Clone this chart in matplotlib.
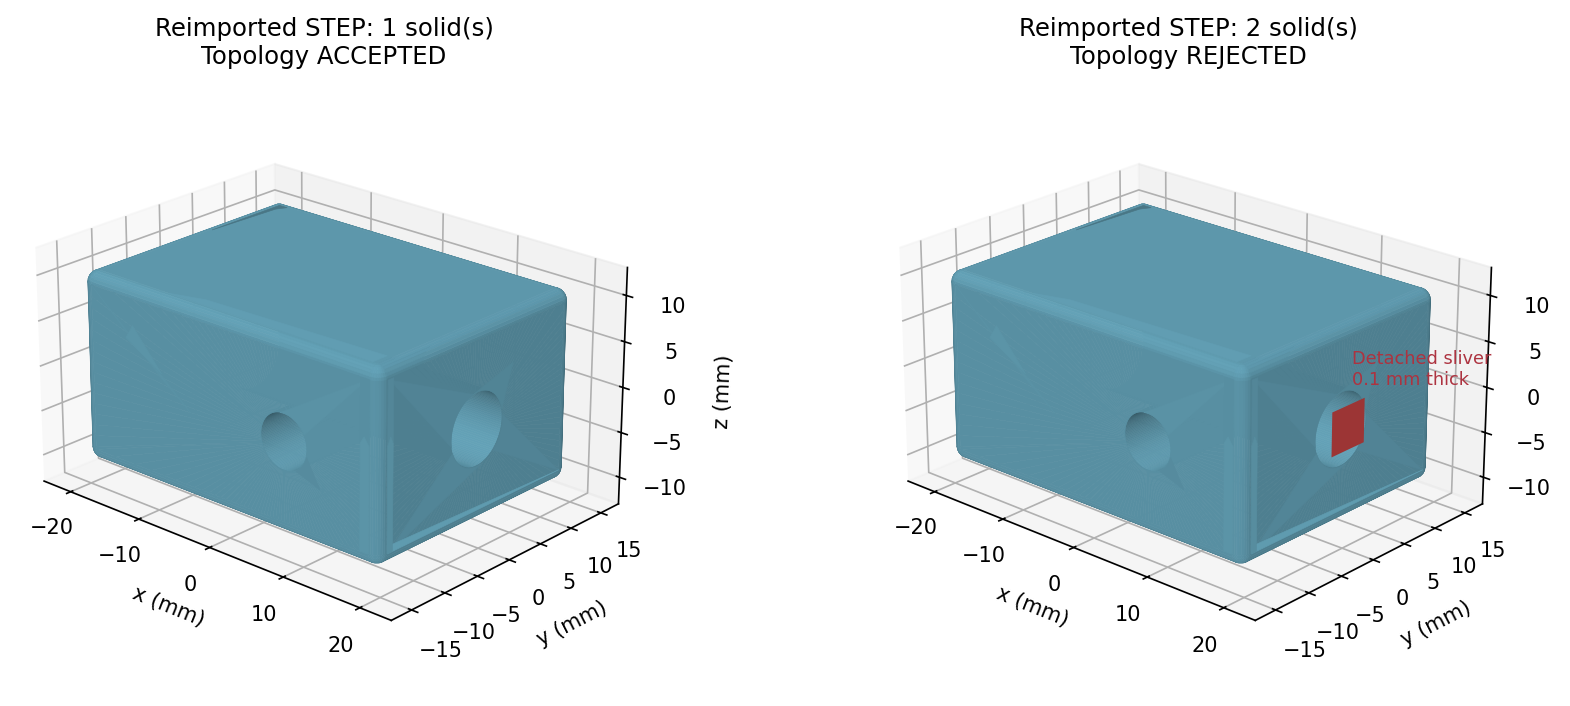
import numpy as np
import matplotlib
matplotlib.use("Agg")
import matplotlib.pyplot as plt
from matplotlib.colors import to_rgb
from mpl_toolkits.mplot3d.art3d import Poly3DCollection

titles = ["Reimported STEP: 1 solid(s)\nTopology ACCEPTED",
          "Reimported STEP: 2 solid(s)\nTopology REJECTED"]
half_size = (20.0, 14.8, 10.4)
body_offset = (-0.27, -0.26, 0.3)
fillet = 1.25
front_hole = (7.75, -0.5, 3.05)    # x, z, radius on the y- wall
side_hole = (0.0, -0.3, 4.0)       # y, z, radius on the x+ wall
sliver_y = (-2.0, 3.05)
sliver_z = (-2.4, 2.4)
sliver_note = "Detached sliver\n0.1 mm thick"
x_ticks = [-20, -10, 0, 10, 20]
y_ticks = [-15, -10, -5, 0, 5, 10, 15]
z_ticks = [-10, -5, 0, 5, 10]
x_lim = (-24, 24); y_lim = (-18, 18); z_lim = (-13, 13)
box_shape = (44.9, 33.3, 24.25)
ELEV, AZIM = 22.5, -48
BASE = np.array(to_rgb("#5D97AB"))

# facets left over from the STEP re-tessellation: fans from a point on the wall to an arc
# of the bore (wall u, wall v, arc start deg, arc end deg, brightness); u, v as fractions of the wall
side_fans = [(-0.90, 0.87, 100, 190, 1.035), (0.90, -0.87, -50, 5, 1.035),
             (-0.90, -0.88, 200, 280, 1.05), (0.37, 0.50, 15, 100, 1.04)]
front_fans = [(0.92, 0.87, 30, 100, 1.015), (0.62, -0.40, -60, -15, 0.97)]
# plain facets as fractions of the half size, with brightness
side_facets = [
    ([(1, -0.91, -0.875), (1, 0.91, -0.875), (1, -0.89, -0.80)], 1.22),
    ([(1, -0.915, 0.875), (1, -0.86, 0.875), (1, -0.86, 0.22), (1, -0.885, 0.30), (1, -0.915, 0.22)], 1.06),
    ([(1, -0.915, 0.22), (1, -0.885, 0.30), (1, -0.86, 0.22), (1, -0.86, -0.875), (1, -0.915, -0.875)], 1.11),
]
front_facets = [
    ([(-0.935, -1, 0.87), (-0.25, -1, -0.10), (-0.45, -1, 0.15)], 1.015),
    ([(-0.70, -1, 0.45), (-0.45, -1, 0.20), (-0.65, -1, 0.60)], 1.03),
    ([(0.935, -1, 0.875), (0.88, -1, 0.875), (0.88, -1, 0.22), (0.905, -1, 0.30), (0.935, -1, 0.22)], 0.99),
    ([(0.935, -1, 0.22), (0.905, -1, 0.30), (0.88, -1, 0.22), (0.88, -1, -0.875), (0.935, -1, -0.875)], 1.03),
]
top_facets = [
    ([(-0.45, -0.91, 1), (0.90, -0.91, 1), (0.90, -0.77, 1), (-0.25, -0.83, 1)], 1.04),
    ([(-0.935, 0.20, 1), (-0.935, 0.91, 1), (-0.88, 0.91, 1), (-0.91, 0.83, 1)], 0.78),
]


def shade(n):
    v = 0.75 + 0.09 * n[0] - 0.20 * n[1] + 0.25 * n[2]
    return np.clip(BASE * v, 0, 1)


def view_dir():
    e, a = np.radians(ELEV), np.radians(AZIM)
    return np.array([np.cos(e) * np.cos(a), np.cos(e) * np.sin(a), np.sin(e)])


def add(ax, polys, cols, z):
    moved = [[tuple(np.array(p, dtype=float) + body_offset) for p in poly] for poly in polys]
    ax.add_collection3d(Poly3DCollection(moved, facecolors=cols, edgecolors=cols,
                                         linewidths=0.3, zorder=z))


def shell(ax):
    hx, hy, hz = half_size[0] - fillet, half_size[1] - fillet, half_size[2] - fillet
    V = view_dir()
    polys, cols = [], []
    quads = [(0, 90, 1, 1), (90, 180, -1, 1), (180, 270, -1, -1), (270, 360, 1, -1)]
    lats = [(-90, 0, -1), (0, 90, 1)]
    lon = []
    for a, b, sx, sy in quads:
        for t in np.linspace(a, b, 9):
            lon.append((np.radians(t), sx, sy))
    lat = []
    for a, b, sz in lats:
        for t in np.linspace(a, b, 7):
            lat.append((np.radians(t), sz))

    def P(i, j):
        t, sx, sy = lon[i % len(lon)]
        p, sz = lat[j]
        n = np.array([np.cos(p) * np.cos(t), np.cos(p) * np.sin(t), np.sin(p)])
        return np.array([sx * hx, sy * hy, sz * hz]) + fillet * n, n

    for i in range(len(lon)):
        for j in range(len(lat) - 1):
            c = [P(i, j), P(i + 1, j), P(i + 1, j + 1), P(i, j + 1)]
            n = sum(k[1] for k in c)
            n = n / np.linalg.norm(n)
            if n @ V <= 0:
                continue
            if abs(n[2]) < 1e-6 and (abs(n[0] - 1) < 1e-6 or abs(n[1] + 1) < 1e-6):
                continue  # flat walls are built around their holes
            polys.append([k[0] for k in c])
            m = n.copy(); m[2] = max(m[2], 0.0)  # underside fillets stay wall-coloured
            cols.append(shade(m))
    polys.append([(-hx, -hy, half_size[2]), (hx, -hy, half_size[2]),
                  (hx, hy, half_size[2]), (-hx, hy, half_size[2])])
    cols.append(shade(np.array([0, 0, 1.0])))
    add(ax, polys, cols, 3)


def ring(ax, centre, r, hu, hv, make, normal):
    u0, v0 = centre
    corners = [(hu, hv), (-hu, hv), (-hu, -hv), (hu, -hv)]
    ang = list(np.linspace(0, 2 * np.pi, 145)) + [np.arctan2(b - v0, a - u0) % (2 * np.pi) for a, b in corners]
    ang = np.array(sorted(ang))
    polys = []

    def out(t):
        c, s = np.cos(t), np.sin(t)
        k = []
        if c > 1e-9: k.append((hu - u0) / c)
        if c < -1e-9: k.append((-hu - u0) / c)
        if s > 1e-9: k.append((hv - v0) / s)
        if s < -1e-9: k.append((-hv - v0) / s)
        k = min(k)
        return u0 + k * c, v0 + k * s

    for a, b in zip(ang[:-1], ang[1:]):
        p1 = (u0 + r * np.cos(a), v0 + r * np.sin(a))
        p2 = (u0 + r * np.cos(b), v0 + r * np.sin(b))
        polys.append([make(*p1), make(*p2), make(*out(b)), make(*out(a))])
    add(ax, polys, [shade(normal)] * len(polys), 4)


def bores(ax):
    V = view_dir()
    t = np.linspace(0, 2 * np.pi, 121)
    x0, z0, r = front_hole
    polys, cols = [], []
    for a, b in zip(t[:-1], t[1:]):
        m = (a + b) / 2
        n = np.array([-np.cos(m), 0, -np.sin(m)])
        if n @ V <= 0:
            continue
        polys.append([(x0 + r * np.cos(a), -half_size[1], z0 + r * np.sin(a)),
                      (x0 + r * np.cos(b), -half_size[1], z0 + r * np.sin(b)),
                      (x0 + r * np.cos(b), 10, z0 + r * np.sin(b)),
                      (x0 + r * np.cos(a), 10, z0 + r * np.sin(a))])
        cols.append(shade(n))
    add(ax, polys, cols, 2.5)
    y0, z0, r = side_hole
    polys, cols = [], []
    for a, b in zip(t[:-1], t[1:]):
        m = (a + b) / 2
        n = np.array([0, -np.cos(m), -np.sin(m)])
        if n @ V <= 0:
            continue
        polys.append([(half_size[0], y0 + r * np.cos(a), z0 + r * np.sin(a)),
                      (half_size[0], y0 + r * np.cos(b), z0 + r * np.sin(b)),
                      (-10, y0 + r * np.cos(b), z0 + r * np.sin(b)),
                      (-10, y0 + r * np.cos(a), z0 + r * np.sin(a))])
        cols.append(shade(n))
    add(ax, polys, cols, 2.5)
    hx, hy, hz = half_size[0] - fillet, half_size[1] - fillet, half_size[2] - fillet
    ring(ax, front_hole[:2], front_hole[2], hx, hz,
         lambda u, v: (u, -half_size[1], v), np.array([0, -1.0, 0]))
    ring(ax, side_hole[:2], side_hole[2], hy, hz,
         lambda u, v: (half_size[0], u, v), np.array([1.0, 0, 0]))


def fan(ax, spec, centre, r, make, normal, scale):
    u, v, a0, a1, gain = spec
    arc = [make(centre[0] + r * np.cos(np.radians(t)), centre[1] + r * np.sin(np.radians(t)))
           for t in np.linspace(a0, a1, 40)]
    add(ax, [[make(u * scale[0], v * scale[1])] + arc], [np.clip(shade(normal) * gain, 0, 1)], 4.5)


def facets(ax):
    nx, ny, nz = np.array([1.0, 0, 0]), np.array([0, -1.0, 0]), np.array([0, 0, 1.0])
    for s in side_fans:
        fan(ax, s, side_hole[:2], side_hole[2], lambda u, v: (half_size[0], u, v), nx,
            (half_size[1], half_size[2]))
    for s in front_fans:
        fan(ax, s, front_hole[:2], front_hole[2], lambda u, v: (u, -half_size[1], v), ny,
            (half_size[0], half_size[2]))
    H = np.array(half_size)
    for fs, n in ((side_facets, nx), (front_facets, ny), (top_facets, nz)):
        for verts, gain in fs:
            add(ax, [[tuple(np.array(p) * H) for p in verts]], [np.clip(shade(n) * gain, 0, 1)], 5)


fig = plt.figure(figsize=(1570 / 150, 706 / 150), dpi=150)
w = 0.43
boxes = [[321 / 1570 - w / 2, 0.035, w, 0.84], [1185 / 1570 - w / 2, 0.035, w, 0.84]]
for k, (title, pos) in enumerate(zip(titles, boxes)):
    ax = fig.add_axes(pos, projection="3d", computed_zorder=False)
    ax.view_init(elev=ELEV, azim=AZIM)
    ax.set_xlim(*x_lim); ax.set_ylim(*y_lim); ax.set_zlim(*z_lim)
    ax.set_box_aspect(box_shape, zoom=1.045)
    shell(ax); bores(ax); facets(ax)
    ax.set_xticks(x_ticks); ax.set_yticks(y_ticks); ax.set_zticks(z_ticks)
    ax.tick_params(labelsize=10)
    ax.set_xlabel("x (mm)", fontsize=10)
    ax.set_ylabel("y (mm)", fontsize=10)
    if k == 0:
        ax.set_zlabel("z (mm)", fontsize=10)
    else:
        sx = half_size[0] + 0.05
        sl = [(sx, sliver_y[0], sliver_z[0]), (sx, sliver_y[1], sliver_z[0]),
              (sx, sliver_y[1], sliver_z[1]), (sx, sliver_y[0], sliver_z[1])]
        ax.add_collection3d(Poly3DCollection([sl], facecolors="#9C3535", edgecolors="none", zorder=6))
        ax.text(sx, 1.06, 4.4, sliver_note, color="#AD3340", fontsize=8.5, zorder=7)
    ax.set_title(title, fontsize=11.7, y=1.109, x=0.505)

fig.savefig("out.png", dpi=150, facecolor="white")
